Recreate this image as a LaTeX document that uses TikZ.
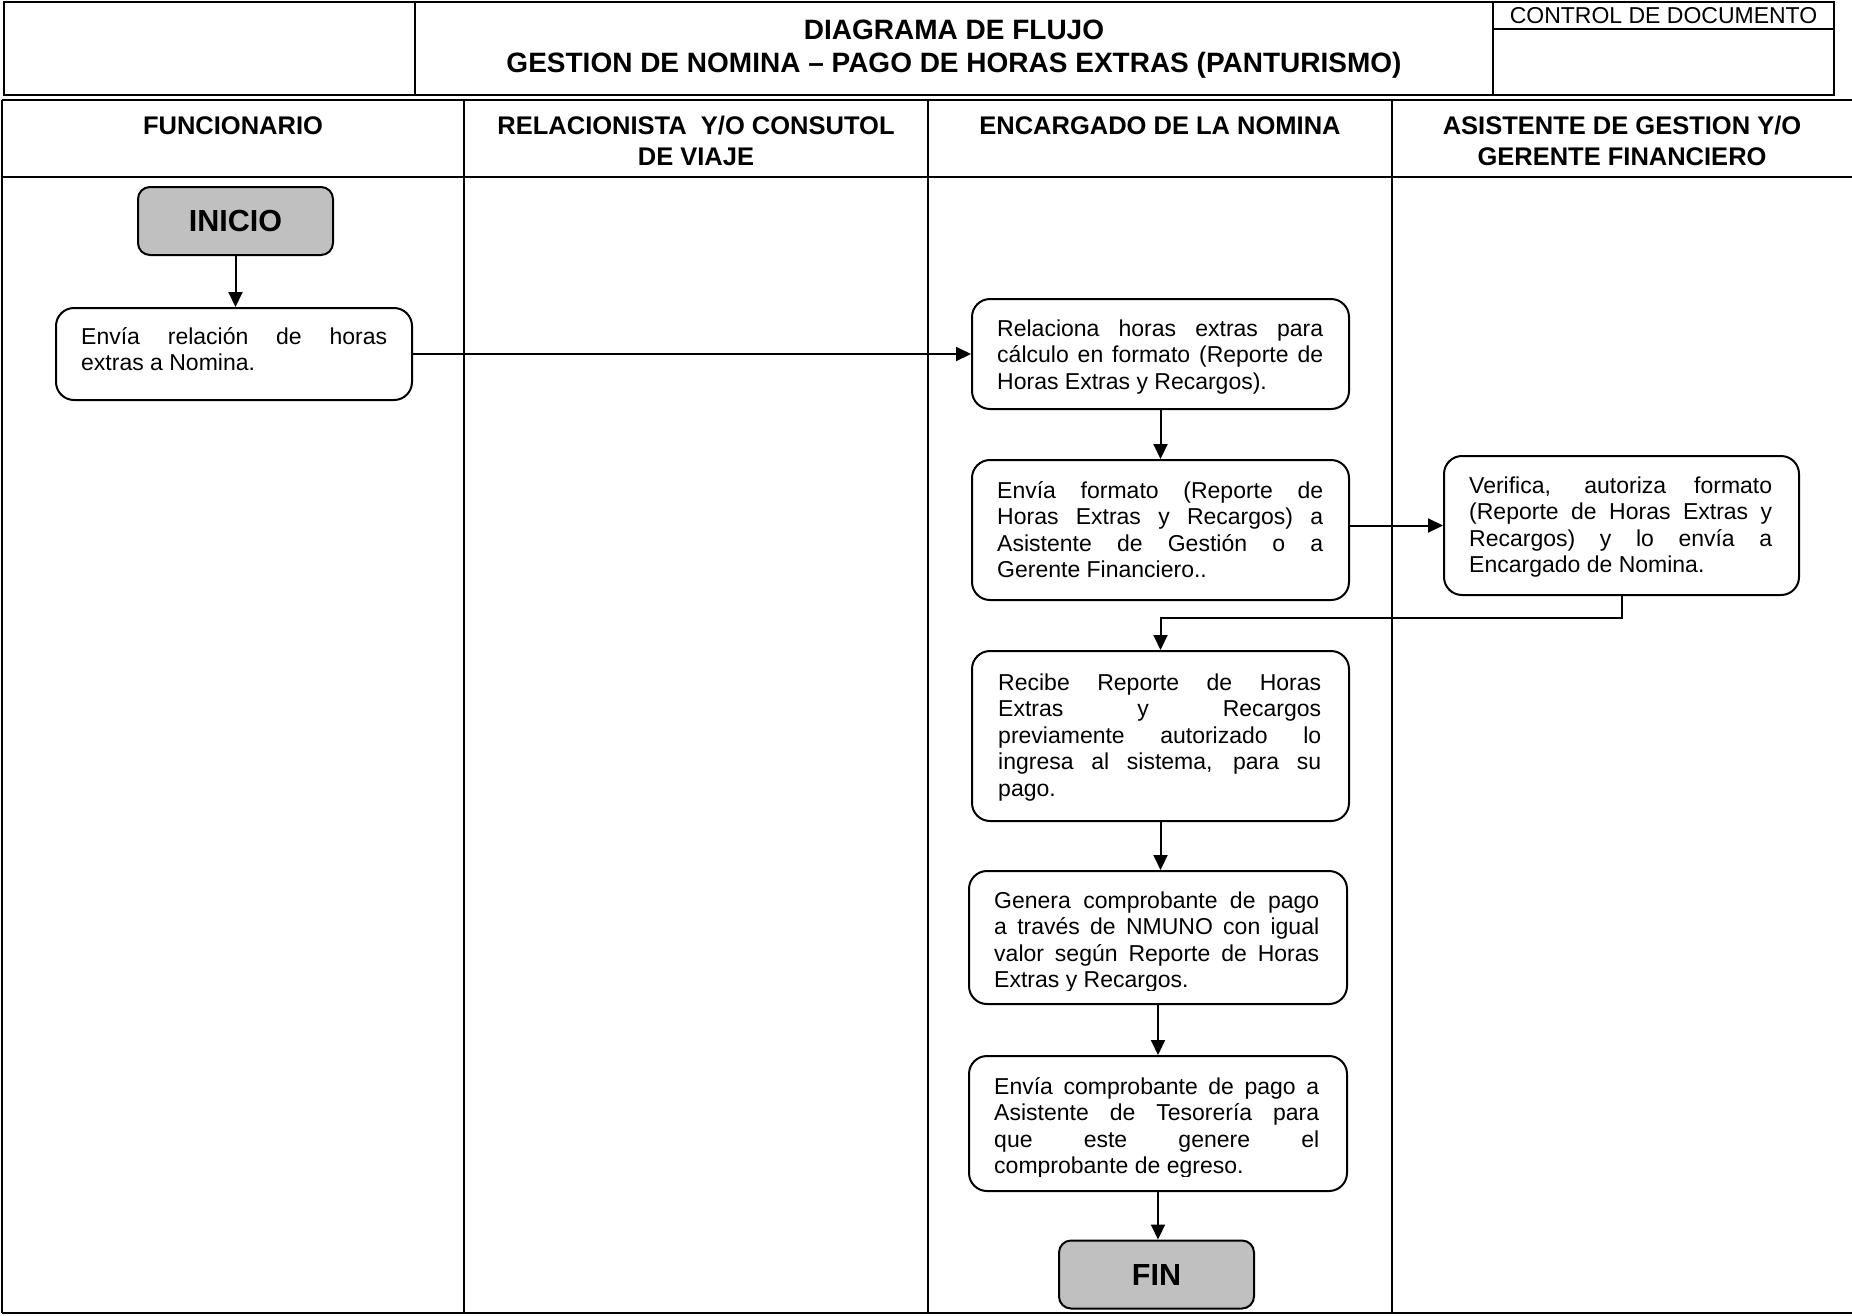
\documentclass[tikz,border=0pt]{standalone}
\usepackage{fontspec}
\setmainfont{Liberation Sans}
\usetikzlibrary{arrows.meta}
\definecolor{termgray}{HTML}{C0C0C0}
% justified box texts: never hyphenate, accept widely stretched lines
\tolerance=10000
\hyphenpenalty=10000
\exhyphenpenalty=10000
\begin{document}
\begin{tikzpicture}[x=1pt,y=-1pt,
  frame/.style={line width=2.6pt},
  lane/.style={line width=2pt},
  stepbox/.style={draw, line width=2pt, rounded corners=18pt, inner sep=0pt, anchor=north west},
  termbox/.style={draw, line width=2pt, rounded corners=12pt, fill=termgray, inner sep=0pt,
    minimum width=195pt, minimum height=68pt, font=\fontsize{30.5}{34}\selectfont\bfseries},
  steptext/.style={anchor=base west, inner sep=0pt, align=justify, font=\fontsize{23}{26.5}\selectfont},
  lanehead/.style={anchor=base, inner sep=0pt, align=center, font=\fontsize{25.5}{31}\selectfont\bfseries},
  flow/.style={line width=2pt, -{Triangle[length=15pt,width=14pt]}},
]
\useasboundingbox (0,0) rectangle (1852,1315);

% ---- document header ----
\draw[frame] (4,2) rectangle (1834,95);
\draw[frame] (415,2) -- (415,95);
\draw[frame] (1493,2) -- (1493,95);
\draw[line width=2pt] (1493,29) -- (1834,29);
% multi-line centred nodes sit on the baseline of their last line
\node[anchor=base, inner sep=0pt, align=center, font=\fontsize{28}{33}\selectfont\bfseries] (title) at (954,72.5)
  {DIAGRAMA DE FLUJO\\GESTION DE NOMINA – PAGO DE HORAS EXTRAS (PANTURISMO)};
\node[anchor=base, inner sep=0pt, font=\fontsize{23}{26}\selectfont] (ctrl) at (1663.5,23) {CONTROL DE DOCUMENTO};

% ---- swimlanes ----
\draw[lane] (2,100) -- (1860,100);
\draw[lane] (2,177) -- (1860,177);
\draw[lane] (2,1313) -- (1860,1313);
\foreach \lx in {2,464,928,1392} {\draw[lane] (\lx,100) -- (\lx,1313);}
\node[lanehead] (laneA) at (233,134) {FUNCIONARIO};
\node[lanehead] (laneB) at (696,165) {RELACIONISTA\ \ Y/O CONSUTOL\\DE VIAJE};
\node[lanehead] (laneC) at (1160,134) {ENCARGADO DE LA NOMINA};
\node[lanehead] (laneD) at (1622,165) {ASISTENTE DE GESTION Y/O\\GERENTE FINANCIERO};

% ---- terminals ----
\node[termbox] (inicio) at (235.5,221) {INICIO};
\node[termbox] (fin) at (1156.5,1274.5) {FIN};

% ---- process boxes ----
\node[stepbox, minimum width=356pt, minimum height=92pt] (envrel) at (55,307) {};
\node[stepbox, minimum width=377pt, minimum height=110pt] (relac) at (971,298) {};
\node[stepbox, minimum width=377pt, minimum height=140pt] (envfor) at (971,459) {};
\node[stepbox, minimum width=355pt, minimum height=139pt] (verif) at (1443,455) {};
\node[stepbox, minimum width=377pt, minimum height=170pt] (recibe) at (971,650) {};
\node[stepbox, minimum width=378pt, minimum height=133pt] (genera) at (968,870) {};
\node[stepbox, minimum width=378pt, minimum height=135pt] (envcomp) at (968,1055) {};

% ---- box texts ----
\node[steptext, text width=306pt] (tEnvrel) at (81,344)
  {Envía relación de horas\linebreak extras a Nomina.};
\node[steptext, text width=326pt] (tRelac) at (997,336)
  {Relaciona horas extras para\linebreak cálculo en formato (Reporte de\linebreak Horas Extras y Recargos).};
\node[steptext, text width=326pt] (tEnvfor) at (997,498)
  {Envía formato (Reporte de\linebreak Horas Extras y Recargos) a\linebreak Asistente de Gestión o a\linebreak Gerente Financiero..};
\node[steptext, text width=303pt] (tVerif) at (1469,493)
  {Verifica, autoriza formato\linebreak (Reporte de Horas Extras y\linebreak Recargos) y lo envía a\linebreak Encargado de Nomina.};
\node[steptext, text width=323pt] (tRecibe) at (998,690)
  {Recibe Reporte de Horas\linebreak Extras y Recargos\linebreak previamente autorizado lo\linebreak ingresa al sistema, para su\linebreak pago.};
% the last line of these two boxes is cut at its baseline by the box's text area
\begin{scope}
  \clip (genera.north west) rectangle ([yshift=15pt]genera.south east);
  \node[steptext, text width=325pt] (tGenera) at (994,908)
    {Genera comprobante de pago\linebreak a través de NMUNO con igual\linebreak valor según Reporte de Horas\linebreak Extras y Recargos.};
\end{scope}
\begin{scope}
  \clip (envcomp.north west) rectangle ([yshift=16pt]envcomp.south east);
  \node[steptext, text width=325pt] (tEnvcomp) at (994,1094)
    {Envía comprobante de pago a\linebreak Asistente de Tesorería para\linebreak que este genere el\linebreak comprobante de egreso.};
\end{scope}

% ---- connectors ----
\draw[flow] (inicio.south) -- (inicio.south |- envrel.north);
\draw[flow] (envrel.east) -- (relac.west);
\draw[flow] (relac.south) -- (relac.south |- envfor.north);
\draw[flow] (envfor.east |- verif.west) -- (verif.west);
\coordinate (backbend) at (1620.5,618);
\draw[flow] (verif.south) -- (verif.south |- backbend) -- (recibe.north |- backbend) -- (recibe.north);
\draw[flow] (recibe.south) -- (recibe.south |- genera.north);
\draw[flow] (genera.south) -- (genera.south |- envcomp.north);
\draw[flow] (envcomp.south) -- (envcomp.south |- fin.north);
\end{tikzpicture}
\end{document}
